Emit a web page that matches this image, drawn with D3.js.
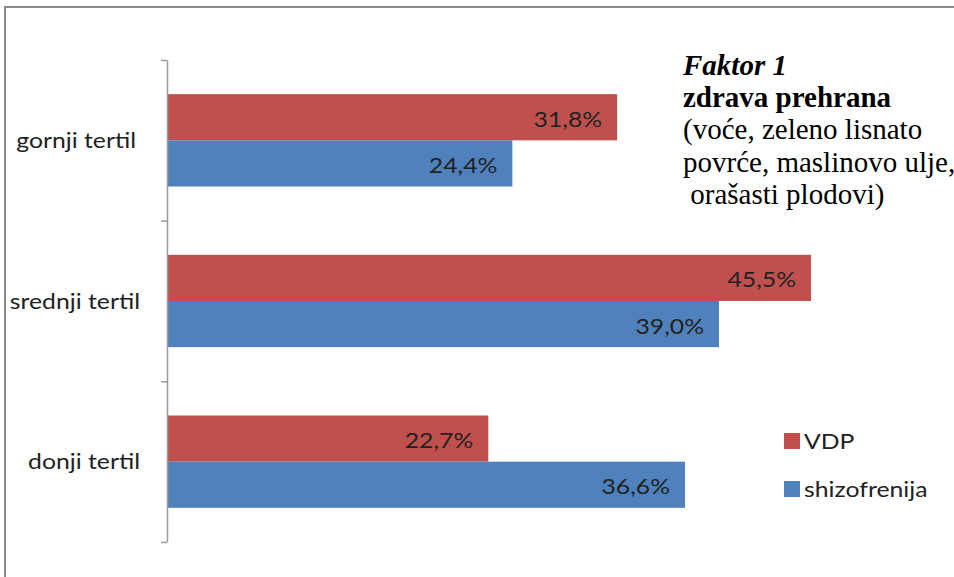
<!DOCTYPE html>
<html>
<head>
<meta charset="utf-8">
<script src="https://cdn.jsdelivr.net/npm/d3@7/dist/d3.min.js"></script>
<style>
  html, body { margin: 0; padding: 0; background: #fff; }
  svg { display: block; }
</style>
</head>
<body>
<svg id="chart" width="954" height="577"></svg>
<script>
// Tertile groups (top to bottom) and the two compared series
const categories = ["gornji tertil", "srednji tertil", "donji tertil"];
const seriesNames = ["VDP", "shizofrenija"];
const vdpValues = [31.8, 45.5, 22.7];
const shizoValues = [24.4, 39.0, 36.6];
const titleLines = [
  "Faktor 1",
  "zdrava prehrana",
  "(voće, zeleno lisnato",
  "povrće, maslinovo ulje,",
  " orašasti plodovi)"
];

const colors = { "VDP": "#C0504D", "shizofrenija": "#4F81BD" };
const seriesValues = { "VDP": vdpValues, "shizofrenija": shizoValues };

const sansFont = "Lato, 'Open Sans', sans-serif";
const sansSize = 21;
const sansStretch = 1.18;

const svg = d3.select("#chart");

// sans label, slightly widened horizontally
function sansText(parent, x, y, str, anchor, size) {
  return parent.append("g")
    .attr("transform", `translate(${x},${y}) scale(${sansStretch},1)`)
    .append("text")
    .attr("text-anchor", anchor)
    .attr("font-family", sansFont)
    .attr("font-size", size || sansSize)
    .attr("fill", "#222")
    .text(str);
}

// outer frame
svg.append("rect")
  .attr("x", 5).attr("y", 7)
  .attr("width", 1000).attr("height", 600)
  .attr("fill", "none")
  .attr("stroke", "#8a8a8a")
  .attr("stroke-width", 2);

const x0 = 167;
const x = d3.scaleLinear().domain([0, 50]).range([x0, x0 + 14.154 * 50]);
const y = d3.scaleBand().domain(categories).range([60, 542]);
const ySub = d3.scaleBand().domain(seriesNames)
  .range([0, y.bandwidth()]).paddingOuter(0.74);

// bars and value labels
categories.forEach((c, i) => {
  const g = svg.append("g").attr("transform", `translate(0,${y(c)})`);
  seriesNames.forEach(s => {
    const v = seriesValues[s][i];
    g.append("rect")
      .attr("x", x(0))
      .attr("y", ySub(s))
      .attr("width", x(v) - x(0))
      .attr("height", ySub.bandwidth())
      .attr("fill", colors[s]);
    sansText(g, x(v) - 15, ySub(s) + ySub.bandwidth() / 2 + 9.5,
      v.toFixed(1).replace(".", ",") + "%", "end");
  });
});

// category axis with ticks between groups
const yEdges = d3.scaleLinear().domain([0, categories.length]).range(y.range());
const axis = svg.append("g")
  .attr("transform", `translate(${x0},0)`)
  .call(d3.axisLeft(yEdges).tickValues(d3.range(categories.length + 1))
    .tickFormat("").tickSize(6).tickSizeOuter(0));
axis.select(".domain").attr("stroke", "#9a9a9a").attr("stroke-width", 1.5);
axis.selectAll(".tick line").attr("stroke", "#9a9a9a").attr("stroke-width", 1.5);

// category labels
categories.forEach((c, i) => {
  sansText(svg, i === 0 ? 136 : 140, y(c) + y.bandwidth() / 2 + 7.5, c, "end");
});

// legend
const legend = svg.append("g").attr("transform", "translate(784,433)");
seriesNames.forEach((s, i) => {
  const g = legend.append("g").attr("transform", `translate(0,${i * 48})`);
  g.append("rect").attr("width", 16).attr("height", 16).attr("fill", colors[s]);
  sansText(g, 20, 16, s, "start");
});

// title block
const title = svg.append("g")
  .attr("font-family", "'Liberation Serif', 'Times New Roman', serif")
  .attr("fill", "#000");
titleLines.forEach((t, i) => {
  const line = title.append("text")
    .attr("x", 683)
    .attr("y", 75 + i * 32.2)
    .attr("font-size", 29)
    .style("white-space", "pre")
    .text(t);
  if (i === 0) line.attr("font-weight", "bold").attr("font-style", "italic");
  if (i === 1) line.attr("font-weight", "bold");
});
</script>
</body>
</html>
